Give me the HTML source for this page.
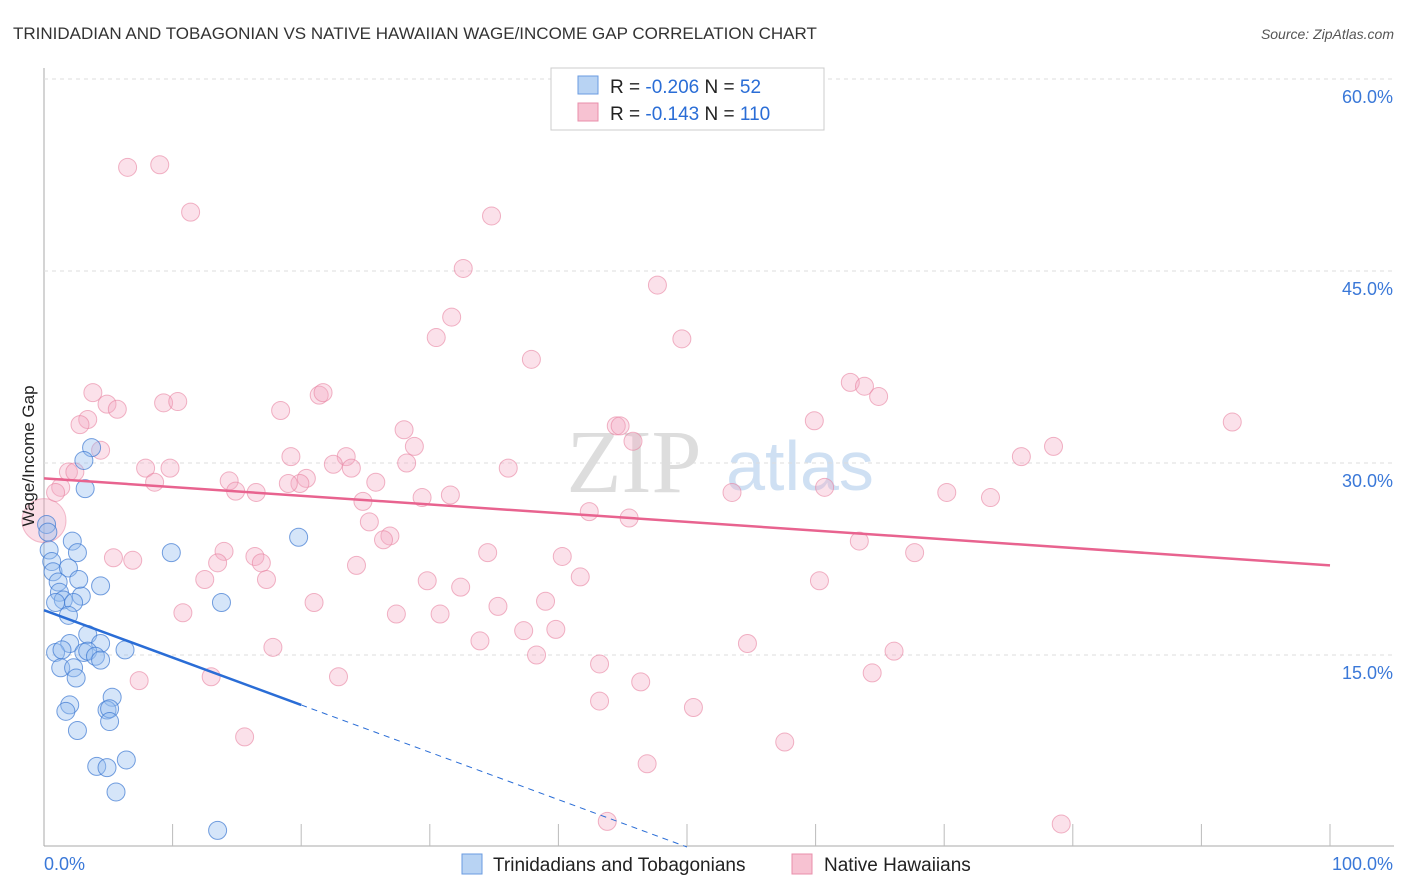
<!DOCTYPE html>
<html><head><meta charset="utf-8"><style>
body{margin:0;background:#fff;font-family:"Liberation Sans",sans-serif;}
svg{display:block}
</style></head><body>
<svg id="chart" width="1406" height="892">
<text x="13" y="39" font-size="17" fill="#333">TRINIDADIAN AND TOBAGONIAN VS NATIVE HAWAIIAN WAGE/INCOME GAP CORRELATION CHART</text>
<text x="1394" y="39" font-size="14" fill="#555" text-anchor="end" font-style="italic">Source: ZipAtlas.com</text>
<text x="634" y="492" font-size="90" fill="#ddd" font-family="Liberation Serif" text-anchor="middle">ZIP</text>
<text x="800" y="490" font-size="70" fill="#cfe0f3" text-anchor="middle">atlas</text>
<g id="grid"></g><g id="marks"></g>
<text x="34" y="456" font-size="17" fill="#222" text-anchor="middle" transform="rotate(-90 34 456)">Wage/Income Gap</text>
<g>
<rect x="551" y="68" width="273" height="62" fill="#fff" stroke="#ccc"/>
<rect x="578" y="76" width="20" height="18" fill="#b8d3f3" stroke="#6a9be0"/>
<rect x="578" y="103" width="20" height="18" fill="#f7c2d2" stroke="#e88fab"/>
<text x="610" y="93" font-size="19" fill="#222">R = <tspan fill="#2a6dd6">-0.206</tspan>   N = <tspan fill="#2a6dd6"> 52</tspan></text>
<text x="610" y="120" font-size="19" fill="#222">R =  <tspan fill="#2a6dd6">-0.143</tspan>   N = <tspan fill="#2a6dd6">110</tspan></text>
</g>
<g>
<rect x="462" y="854" width="20" height="20" fill="#b8d3f3" stroke="#6a9be0"/>
<text x="493" y="871" font-size="19" fill="#222">Trinidadians and Tobagonians</text>
<rect x="792" y="854" width="20" height="20" fill="#f7c2d2" stroke="#e88fab"/>
<text x="824" y="871" font-size="19" fill="#222">Native Hawaiians</text>
</g>
</svg>
<script>
const yTicks=[15,30,45,60];
const yTickLabels=["15.0%","30.0%","45.0%","60.0%"];
const xTickLabels=["0.0%","100.0%"];
const blueX=[3.7,3.1,3.2,0.2,0.3,19.8,2.2,0.4,2.6,9.9,0.6,0.7,1.9,2.7,1.1,4.4,1.2,2.9,1.5,0.9,2.3,13.8,1.9,3.4,2.0,4.4,0.9,1.4,3.1,3.4,4.0,4.4,6.3,1.3,2.3,2.5,5.3,2.0,1.7,4.9,5.1,5.1,2.6,6.4,4.1,4.9,5.6,13.5];
const blueY=[31.2,30.2,28.0,25.2,24.6,24.2,23.9,23.2,23.0,23.0,22.3,21.5,21.8,20.9,20.7,20.4,19.9,19.6,19.3,19.1,19.1,19.1,18.1,16.6,15.9,15.9,15.2,15.4,15.2,15.3,14.9,14.6,15.4,14.0,14.0,13.2,11.7,11.1,10.6,10.7,10.8,9.8,9.1,6.8,6.3,6.2,4.3,1.3];
const pinkX=[51.9,6.5,9.0,11.4,34.8,32.6,47.7,31.7,30.5,49.6,37.9,62.7,63.8,64.9,3.8,21.4,21.7,4.9,5.7,9.3,10.4,18.4,3.4,2.8,59.9,92.4,28.0,44.5,44.8,4.4,28.8,45.8,78.5,76.0,19.2,23.5,22.5,23.9,28.2,7.9,9.8,1.9,2.4,36.1,14.4,8.6,20.4,19.9,19.0,25.8,1.3,0.9,60.7,14.9,16.5,31.6,29.4,24.8,53.5,70.2,73.6,42.4,45.5,25.3,26.9,26.4,63.4,14.0,34.5,5.4,6.9,16.4,16.9,13.5,40.3,67.7,24.3,17.3,12.5,29.8,41.7,60.3,32.4,21.0,39.0,35.3,10.8,27.4,30.8,39.8,37.3,33.9,54.7,17.8,66.1,38.3,43.2,64.4,22.9,13.0,7.4,46.4,43.2,50.5,15.6,57.6,46.9,43.8,79.1];
const pinkY=[59.9,53.1,53.3,49.6,49.3,45.2,43.9,41.4,39.8,39.7,38.1,36.3,36.0,35.2,35.5,35.3,35.5,34.6,34.2,34.7,34.8,34.1,33.4,33.0,33.3,33.2,32.6,32.9,32.9,31.0,31.3,31.7,31.3,30.5,30.5,30.5,29.9,29.6,30.0,29.6,29.6,29.3,29.3,29.6,28.6,28.5,28.8,28.4,28.4,28.5,28.1,27.7,28.1,27.8,27.7,27.5,27.3,27.0,27.7,27.7,27.3,26.2,25.7,25.4,24.3,24.0,23.9,23.1,23.0,22.6,22.4,22.7,22.2,22.2,22.7,23.0,22.0,20.9,20.9,20.8,21.1,20.8,20.3,19.1,19.2,18.8,18.3,18.2,18.2,17.0,16.9,16.1,15.9,15.6,15.3,15.0,14.3,13.6,13.3,13.3,13.0,12.9,11.4,10.9,8.6,8.2,6.5,2.0,1.8];
const blueTrend=[18.5,-0.37]; const pinkTrend=[28.8,-0.068];
const X=v=>44+v*12.86, Y=v=>847-v*12.8;
const NS="http://www.w3.org/2000/svg";
function mk(t,a,p){const e=document.createElementNS(NS,t);for(const k in a)e.setAttribute(k,a[k]);p.appendChild(e);return e;}
const g=document.getElementById('grid'),m=document.getElementById('marks');
let ax=mk('line',{x1:44,y1:68,x2:44,y2:846,stroke:'#aaa'},g);

let bx=mk('line',{x1:44,y1:846,x2:1394,y2:846,stroke:'#aaa'},g);

yTicks.forEach((t,i)=>{let l=mk('line',{x1:44,x2:1394,y1:Y(t),y2:Y(t),stroke:'#ddd','stroke-dasharray':'4,4'},g);

let tx=mk('text',{x:1393,y:Y(t)+24,'font-size':18,fill:'#3a78d8','text-anchor':'end'},g);tx.textContent=yTickLabels[i];
});
for(let i=1;i<=10;i++){let l=mk('line',{x1:X(i*10),x2:X(i*10),y1:824,y2:846,stroke:'#bbb'},g);
}
[[0,44,'start'],[1,1393,'end']].forEach(([i,x,a])=>{let t=mk('text',{x:x,y:870,'font-size':18,fill:'#3a78d8','text-anchor':a},g);t.textContent=xTickLabels[i];
});
let big=mk('circle',{cx:X(0),cy:Y(25.5),r:22,fill:'rgba(244,160,186,0.35)',stroke:'rgba(232,130,160,0.5)'},m);

pinkX.forEach((x,i)=>{let c=mk('circle',{cx:X(x),cy:Y(pinkY[i]),r:9,fill:'rgba(244,170,195,0.35)',stroke:'rgba(232,130,160,0.6)'},m);
});
blueX.forEach((x,i)=>{let c=mk('circle',{cx:X(x),cy:Y(blueY[i]),r:9,fill:'rgba(150,190,240,0.4)',stroke:'rgba(60,120,210,0.7)'},m);
});
let pl=mk('line',{x1:X(0),y1:Y(pinkTrend[0]),x2:X(100),y2:Y(pinkTrend[0]+pinkTrend[1]*100),stroke:'#e8638f','stroke-width':2.5},m);

let bl=mk('line',{x1:X(0),y1:Y(blueTrend[0]),x2:X(20),y2:Y(blueTrend[0]+blueTrend[1]*20),stroke:'#2a6dd6','stroke-width':2.5},m);

let bd=mk('line',{x1:X(20),y1:Y(blueTrend[0]+blueTrend[1]*20),x2:X(50),y2:Y(blueTrend[0]+blueTrend[1]*50),stroke:'#2a6dd6','stroke-width':1,'stroke-dasharray':'6,5'},m);

</script>
</body></html>
